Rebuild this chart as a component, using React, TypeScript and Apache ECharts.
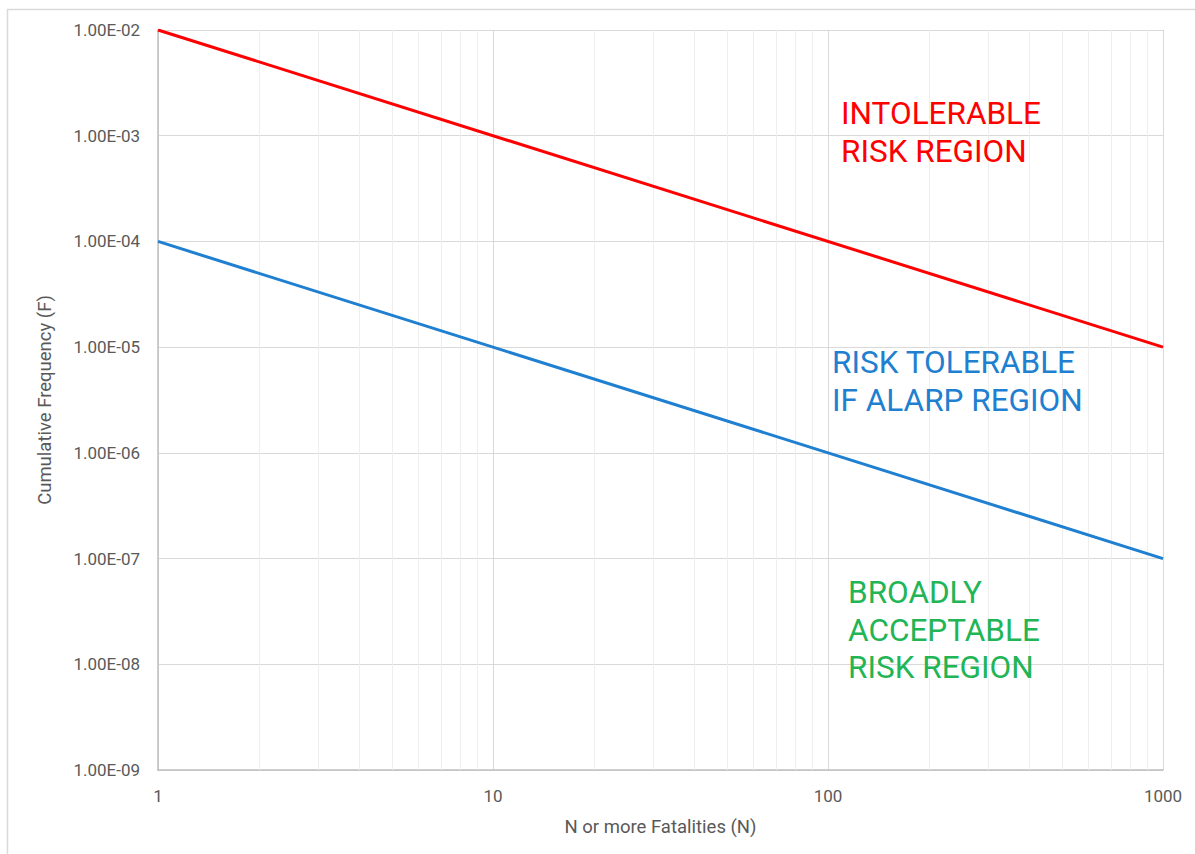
import React, { useEffect, useRef } from "react";
import * as echarts from "echarts";

const nValues = [1, 1000];
const intolerableLimit = [1e-2, 1e-5];
const acceptableLimit = [1e-4, 1e-7];
const minorGridN = [2, 3, 4, 5, 6, 7, 8, 9, 20, 30, 40, 50, 60, 70, 80, 90, 200, 300, 400, 500, 600, 700, 800, 900];
const regionLabels = [
  { text: "INTOLERABLE\nRISK REGION", color: "#ff0000" },
  { text: "RISK TOLERABLE\nIF ALARP REGION", color: "#1f7fd0" },
  { text: "BROADLY\nACCEPTABLE\nRISK REGION", color: "#21b556" },
];

const fmtExp = (v: number) => {
  const e = Math.round(Math.log10(v));
  const sign = e < 0 ? "-" : "+";
  return `1.00E${sign}${String(Math.abs(e)).padStart(2, "0")}`;
};

export default function App() {
  const ref = useRef<HTMLDivElement>(null);
  useEffect(() => {
    document.body.style.margin = "0";
    const chart = echarts.init(ref.current!, null, { renderer: "svg" });
    const font = "Roboto";
    chart.setOption({
      animation: false,
      backgroundColor: "#ffffff",
      textStyle: { fontFamily: font },
      grid: { left: 158, top: 30, right: 32, bottom: 84, containLabel: false },
      xAxis: {
        type: "log",
        logBase: 10,
        min: 1,
        max: 1000,
        name: "N or more Fatalities (N)",
        nameLocation: "middle",
        nameGap: 47,
        nameTextStyle: { fontSize: 18.5, color: "#595959", fontFamily: font },
        axisLine: { show: true, lineStyle: { color: "#bfbfbf", width: 1.5 } },
        axisTick: { show: false },
        axisLabel: { fontSize: 17, color: "#595959", margin: 17, fontFamily: font, formatter: (v: number) => String(Math.round(v)) },
        splitLine: { show: true, lineStyle: { color: "#d9d9d9", width: 1 } },
      },
      yAxis: {
        type: "log",
        logBase: 10,
        min: 1e-9,
        max: 1e-2,
        splitNumber: 7,
        name: "Cumulative Frequency (F)",
        nameLocation: "middle",
        nameGap: 104,
        nameTextStyle: { fontSize: 18.5, color: "#595959", fontFamily: font },
        axisLine: { show: true, lineStyle: { color: "#bfbfbf", width: 1.5 } },
        axisTick: { show: false },
        axisLabel: { fontSize: 17, color: "#595959", margin: 18, fontFamily: font, formatter: fmtExp },
        splitLine: { show: true, lineStyle: { color: "#d9d9d9", width: 1 } },
      },
      series: [
        {
          type: "line",
          z: 1,
          data: [],
          silent: true,
          markLine: {
            silent: true,
            z: 1,
            symbol: "none",
            label: { show: false },
            lineStyle: { color: "#eeeeee", width: 1, type: "solid" },
            data: minorGridN.map((n) => ({ xAxis: n })),
          },
        },
        {
          type: "line",
          name: "Intolerable",
          data: nValues.map((n, i) => [n, intolerableLimit[i]]),
          symbol: "none",
          lineStyle: { color: "#ff0000", width: 3 },
          z: 3,
        },
        {
          type: "line",
          name: "Acceptable",
          data: nValues.map((n, i) => [n, acceptableLimit[i]]),
          symbol: "none",
          lineStyle: { color: "#1f7fd0", width: 3 },
          z: 3,
        },
      ],
      graphic: [
        {
          type: "rect",
          silent: true,
          z: 0,
          shape: { x: 7.5, y: 9.5, width: 1300, height: 1000 },
          style: { fill: "none", stroke: "#d9d9d9", lineWidth: 1.5 },
        },
        {
          type: "text",
          z: 10,
          x: 841,
          y: 94,
          style: { text: regionLabels[0].text, fill: regionLabels[0].color, font: `31.5px ${font}`, lineHeight: 38, textVerticalAlign: "top" },
        },
        {
          type: "text",
          z: 10,
          x: 832,
          y: 343,
          style: { text: regionLabels[1].text, fill: regionLabels[1].color, font: `31.5px ${font}`, lineHeight: 38, textVerticalAlign: "top" },
        },
        {
          type: "text",
          z: 10,
          x: 848,
          y: 574,
          style: { text: regionLabels[2].text, fill: regionLabels[2].color, font: `31.5px ${font}`, lineHeight: 37.5, textVerticalAlign: "top" },
        },
      ],
    });
    return () => chart.dispose();
  }, []);
  return <div ref={ref} style={{ width: 1195, height: 854 }} />;
}
